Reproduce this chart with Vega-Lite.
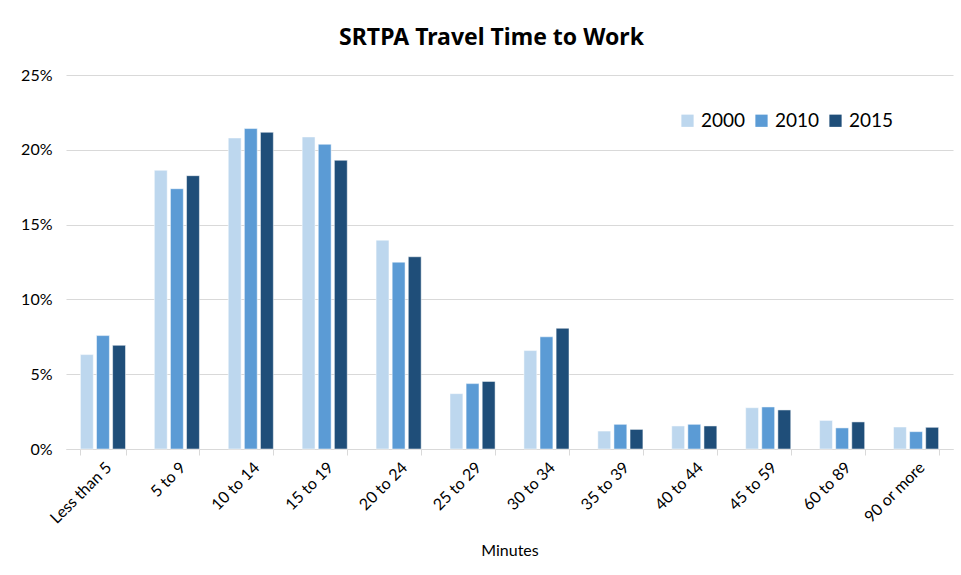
{
  "$schema": "https://vega.github.io/schema/vega-lite/v6.json",
  "width": 887,
  "height": 374,
  "autosize": {"type": "none"},
  "padding": {"left": 66, "top": 75, "right": 8, "bottom": 126},
  "background": "white",
  "title": {
    "text": "SRTPA Travel Time to Work",
    "font": "Noto Sans",
    "fontSize": 23,
    "fontWeight": "bold",
    "color": "#000000",
    "anchor": "middle",
    "dx": -18,
    "offset": 17
  },
  "data": {
    "values": [
      {"cat": "Less than 5", "year": "2000", "v": 0.0631},
      {"cat": "Less than 5", "year": "2010", "v": 0.0758},
      {"cat": "Less than 5", "year": "2015", "v": 0.0693},
      {"cat": "5 to 9", "year": "2000", "v": 0.1863},
      {"cat": "5 to 9", "year": "2010", "v": 0.1740},
      {"cat": "5 to 9", "year": "2015", "v": 0.1827},
      {"cat": "10 to 14", "year": "2000", "v": 0.2079},
      {"cat": "10 to 14", "year": "2010", "v": 0.2142},
      {"cat": "10 to 14", "year": "2015", "v": 0.2117},
      {"cat": "15 to 19", "year": "2000", "v": 0.2086},
      {"cat": "15 to 19", "year": "2010", "v": 0.2037},
      {"cat": "15 to 19", "year": "2015", "v": 0.1930},
      {"cat": "20 to 24", "year": "2000", "v": 0.1396},
      {"cat": "20 to 24", "year": "2010", "v": 0.1249},
      {"cat": "20 to 24", "year": "2015", "v": 0.1285},
      {"cat": "25 to 29", "year": "2000", "v": 0.0370},
      {"cat": "25 to 29", "year": "2010", "v": 0.0437},
      {"cat": "25 to 29", "year": "2015", "v": 0.0452},
      {"cat": "30 to 34", "year": "2000", "v": 0.0658},
      {"cat": "30 to 34", "year": "2010", "v": 0.0750},
      {"cat": "30 to 34", "year": "2015", "v": 0.0807},
      {"cat": "35 to 39", "year": "2000", "v": 0.0120},
      {"cat": "35 to 39", "year": "2010", "v": 0.0165},
      {"cat": "35 to 39", "year": "2015", "v": 0.0131},
      {"cat": "40 to 44", "year": "2000", "v": 0.0154},
      {"cat": "40 to 44", "year": "2010", "v": 0.0165},
      {"cat": "40 to 44", "year": "2015", "v": 0.0154},
      {"cat": "45 to 59", "year": "2000", "v": 0.0276},
      {"cat": "45 to 59", "year": "2010", "v": 0.0281},
      {"cat": "45 to 59", "year": "2015", "v": 0.0261},
      {"cat": "60 to 89", "year": "2000", "v": 0.0191},
      {"cat": "60 to 89", "year": "2010", "v": 0.0141},
      {"cat": "60 to 89", "year": "2015", "v": 0.0181},
      {"cat": "90 or more", "year": "2000", "v": 0.0147},
      {"cat": "90 or more", "year": "2010", "v": 0.0116},
      {"cat": "90 or more", "year": "2015", "v": 0.0145}
    ]
  },
  "mark": {"type": "bar", "stroke": "white", "strokeWidth": 0.5},
  "encoding": {
    "x": {
      "field": "cat",
      "type": "nominal",
      "sort": null,
      "title": "Minutes",
      "scale": {"paddingInner": 0.39, "paddingOuter": 0.195},
      "axis": {
        "labelAngle": -45,
        "labelFont": "Lato",
        "labelFontSize": 16,
        "labelColor": "#000000",
        "labelPadding": 4,
        "tickBand": "extent",
        "tickColor": "#d9d9d9",
        "tickSize": 6,
        "domainColor": "#d9d9d9",
        "titleFont": "Lato",
        "titleFontSize": 16,
        "titleFontWeight": "normal",
        "titleColor": "#000000",
        "titlePadding": 16
      }
    },
    "xOffset": {
      "field": "year",
      "type": "nominal",
      "scale": {"paddingInner": 0.2, "paddingOuter": 0}
    },
    "y": {
      "field": "v",
      "type": "quantitative",
      "title": null,
      "scale": {"domain": [0, 0.25]},
      "axis": {
        "values": [0, 0.05, 0.1, 0.15, 0.2, 0.25],
        "format": ".0%",
        "domain": false,
        "ticks": false,
        "labelFont": "Lato",
        "labelFontSize": 16,
        "labelColor": "#000000",
        "labelPadding": 14,
        "gridColor": "#d9d9d9",
        "gridWidth": 1
      }
    },
    "color": {
      "field": "year",
      "type": "nominal",
      "title": null,
      "scale": {"domain": ["2000", "2010", "2015"], "range": ["#BDD7EE", "#5B9BD5", "#1F4E79"]},
      "legend": {
        "orient": "none",
        "direction": "horizontal",
        "legendX": 612,
        "legendY": 36,
        "symbolType": "square",
        "symbolSize": 150,
        "symbolStrokeWidth": 0,
        "labelFont": "Lato",
        "labelFontSize": 19,
        "labelColor": "#000000",
        "labelOffset": 4,
        "columnPadding": 6
      }
    }
  },
  "config": {"view": {"stroke": null}}
}
